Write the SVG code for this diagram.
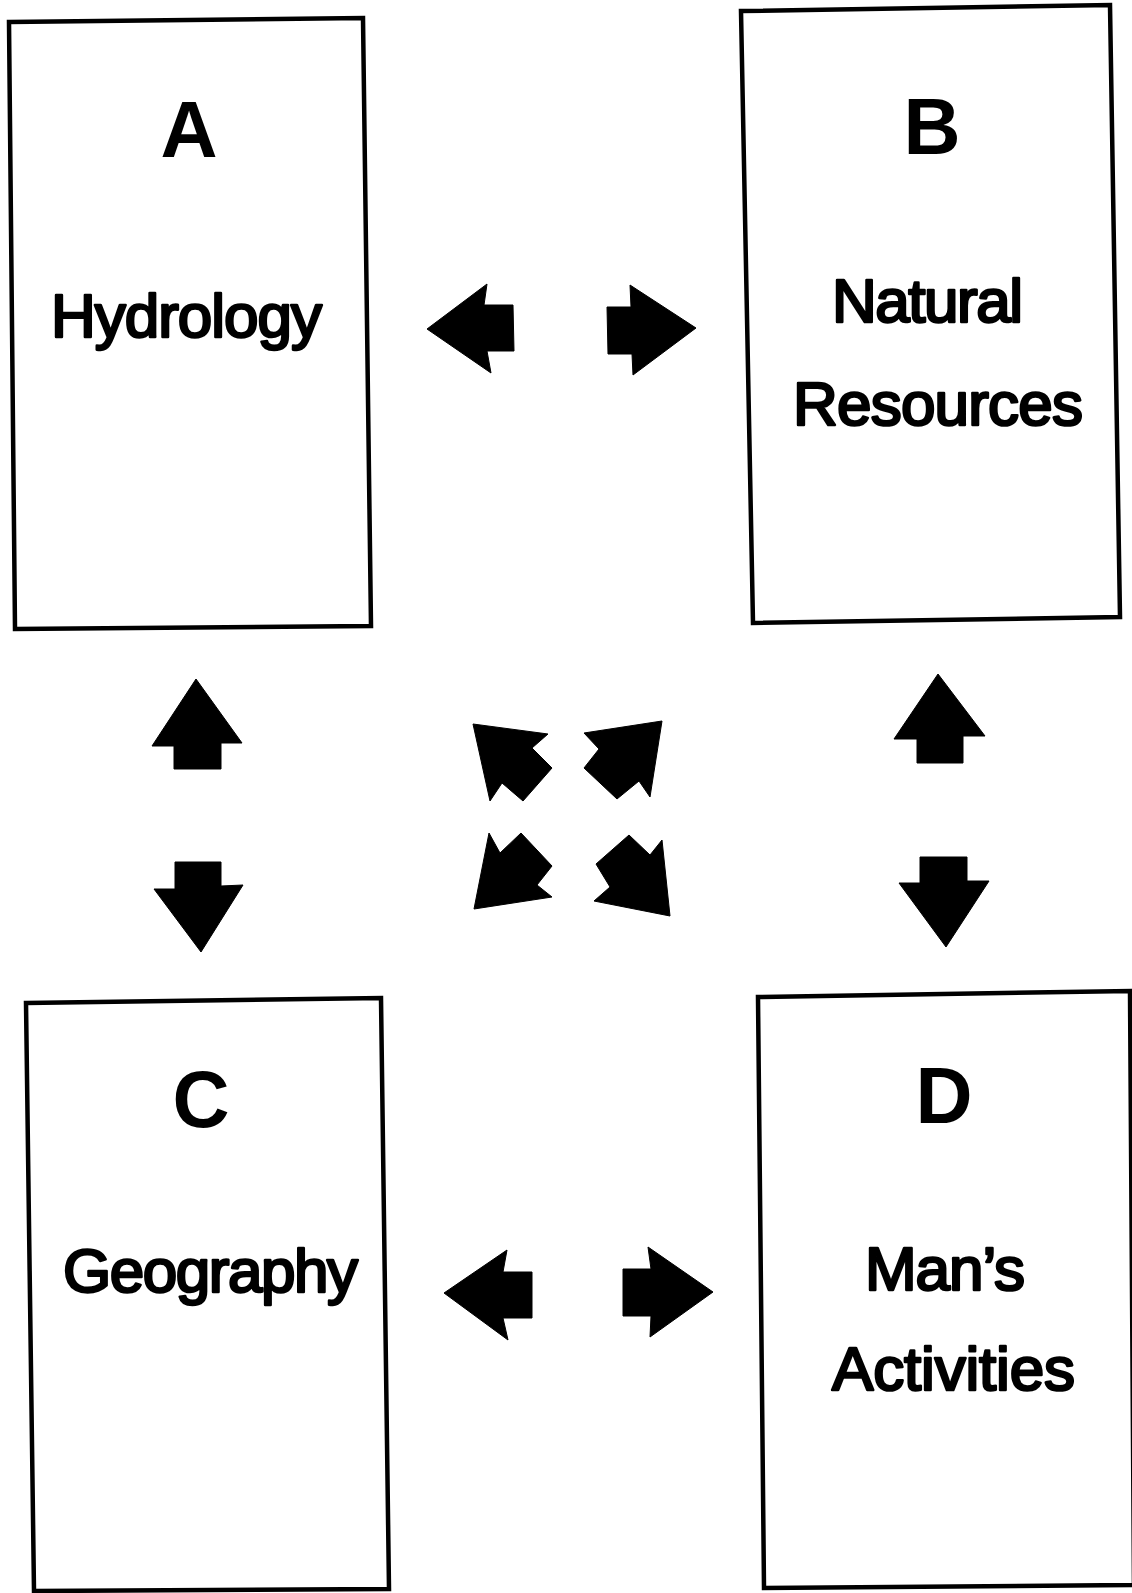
<svg xmlns="http://www.w3.org/2000/svg" width="1132" height="1593" viewBox="0 0 1132 1593">
<style>
.box{fill:#ffffff;stroke:#000;stroke-width:4.5;stroke-linejoin:miter}
.letter{font-family:"Liberation Sans",Arial,sans-serif;font-weight:bold;font-size:79px;fill:#000;text-anchor:middle}
.label{font-family:"Liberation Sans",Arial,sans-serif;font-weight:normal;font-size:62px;fill:#000;stroke:#000;stroke-width:2.6;stroke-linejoin:round}
.arrow{fill:#000;stroke:#000;stroke-width:1;stroke-linejoin:miter}
</style>
<rect width="1132" height="1593" fill="#ffffff"/>
<g id="node-A">
<polygon class="box" points="9,22 363,18 371,626 15,629"/>
<text class="letter" x="189" y="157">A</text>
<text class="label" x="51" y="337" textLength="271" lengthAdjust="spacing">Hydrology</text>
</g>
<g id="node-B">
<polygon class="box" points="741,11 1110,5 1120,617 753,623"/>
<text class="letter" x="932" y="154">B</text>
<text class="label" x="832" y="322" textLength="191" lengthAdjust="spacing">Natural</text>
<text class="label" x="793" y="425" textLength="290" lengthAdjust="spacing">Resources</text>
</g>
<g id="node-C">
<polygon class="box" points="26,1003 381,998 389,1589 34,1591"/>
<text class="letter" x="201" y="1127">C</text>
<text class="label" x="63" y="1292" textLength="295" lengthAdjust="spacing">Geography</text>
</g>
<g id="node-D">
<polygon class="box" points="758,997 1130,991 1134,1585 764,1588"/>
<text class="letter" x="944" y="1123">D</text>
<text class="label" x="865" y="1290" textLength="160" lengthAdjust="spacing">Man’s</text>
<text class="label" x="832" y="1390" textLength="243" lengthAdjust="spacing">Activities</text>
</g>
<g id="connectors">
<polygon class="arrow" points="427,329 487,284 484,305 513,305 514,351 487,351 491,373"/>
<polygon class="arrow" points="607,307 631,307 630,285 696,328 633,375 632,354 608,354"/>
<polygon class="arrow" points="196,679 242,743 221,743 221,769 174,769 174,746 152,746"/>
<polygon class="arrow" points="175,862 221,862 221,886 243,885 201,952 154,889 175,889"/>
<polygon class="arrow" points="938,674 985,736 963,736 963,763 917,763 917,739 894,739"/>
<polygon class="arrow" points="920,857 967,857 967,881 989,881 946,947 899,883 920,883"/>
<polygon class="arrow" points="444,1293 507,1250 503,1272 532,1272 532,1318 503,1318 508,1340"/>
<polygon class="arrow" points="623,1269 651,1269 648,1247 713,1292 650,1337 651,1316 623,1316"/>
<polygon class="arrow" points="473,724 548,734 532,748 552,768 523,801 502,783 490,801"/>
<polygon class="arrow" points="662,721 650,797 639,781 617,799 584,768 599,749 584,733"/>
<polygon class="arrow" points="474,909 489,833 500,853 521,833 552,866 537,885 552,897"/>
<polygon class="arrow" points="670,916 594,901 610,887 596,864 629,835 650,855 662,840"/>
</g>
</svg>
